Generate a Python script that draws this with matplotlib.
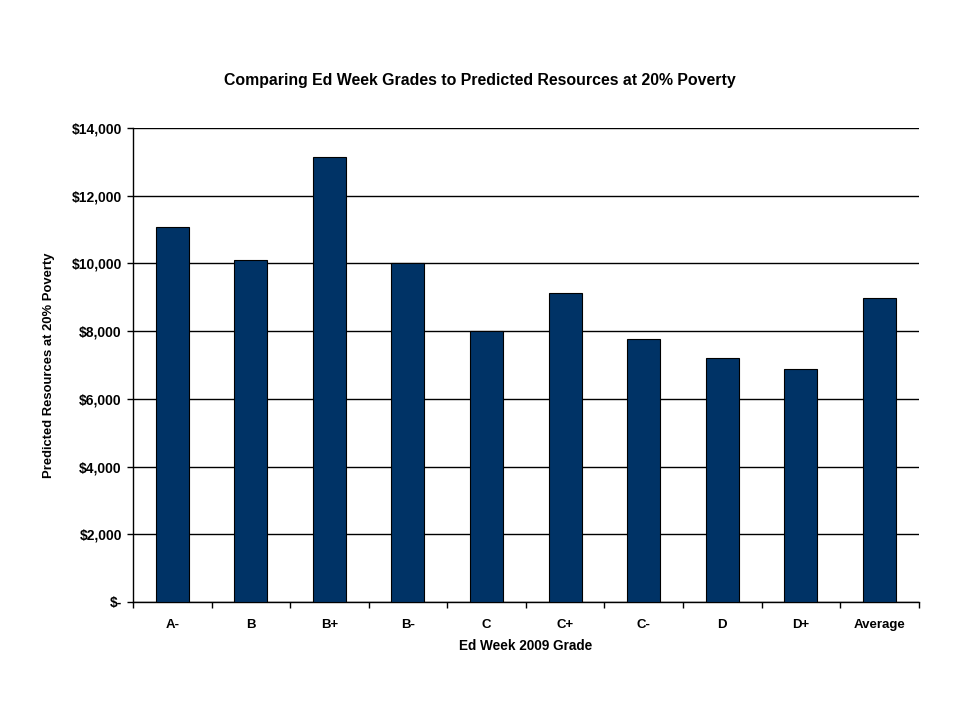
import matplotlib
matplotlib.use('Agg')
import matplotlib.pyplot as plt
import numpy as np
from matplotlib.ticker import FuncFormatter

grades = ['A-', 'B', 'B+', 'B-', 'C', 'C+', 'C-', 'D', 'D+', 'Average']
resources = [11080, 10090, 13130, 10020, 7990, 9120, 7760, 7200, 6870, 8970]

plt.rcParams['font.family'] = ['Liberation Sans', 'DejaVu Sans']
plt.rcParams['font.weight'] = 'bold'

fig = plt.figure(figsize=(9.6, 7.2), dpi=100)
ax = fig.add_axes([0.1385, 0.1639, 0.8185, 0.6583])

x = np.arange(len(grades))
ax.bar(x, resources, width=0.42, color='#003366', edgecolor='black', linewidth=0.8, zorder=3)

ax.set_xlim(-0.5, len(grades) - 0.5)
ax.set_ylim(0, 14000)
ax.set_yticks(np.arange(0, 14001, 2000))
ax.yaxis.set_major_formatter(FuncFormatter(lambda v, p: '$-' if v == 0 else f'${v:,.0f}'))
ax.grid(axis='y', color='black', linewidth=1.0, zorder=0)

ax.set_xticks(x)
ax.set_xticklabels(grades)
ax.set_xticks(np.arange(-0.5, len(grades)), minor=True)
ax.tick_params(axis='x', which='major', length=0, pad=12, labelsize=9.5)
ax.tick_params(axis='x', which='minor', length=4, width=1, color='black')
ax.tick_params(axis='y', length=4, width=1, labelsize=10, pad=4)

for side in ['top', 'right']:
    ax.spines[side].set_visible(False)
for side in ['left', 'bottom']:
    ax.spines[side].set_linewidth(1.0)

fig.text(0.5, 1 - 80 / 720, 'Comparing Ed Week Grades to Predicted Resources at 20% Poverty',
         fontsize=11.4, fontweight='bold', ha='center', va='center')
ax.set_xlabel('Ed Week 2009 Grade', fontsize=9.8, fontweight='bold', labelpad=6)
ax.set_ylabel('Predicted Resources at 20% Poverty', fontsize=9.4, fontweight='bold', labelpad=12)

fig.savefig('out.png', dpi=100, facecolor='white')
